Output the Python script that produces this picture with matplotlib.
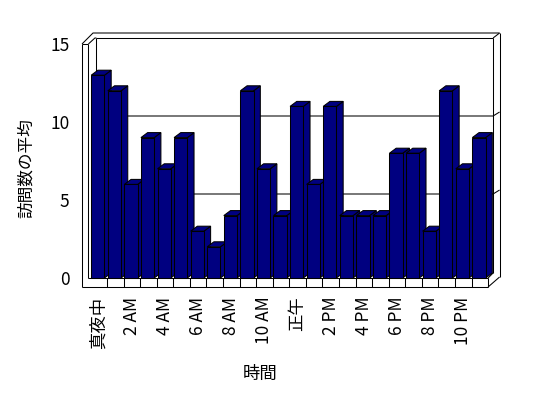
import matplotlib
matplotlib.use("Agg")
import matplotlib.pyplot as plt
from matplotlib.patches import Polygon

plt.rcParams['font.family'] = ['Noto Sans CJK JP', 'DejaVu Sans']

# ---- data ----
hours = list(range(24))
visits = [13, 12, 6, 9, 7, 9, 3, 2, 4, 12, 7, 4,
          11, 6, 11, 4, 4, 4, 8, 8, 3, 12, 7, 9]
tick_hours = [0, 2, 4, 6, 8, 10, 12, 14, 16, 18, 20, 22]
tick_labels = ['真夜中', '2 AM', '4 AM', '6 AM', '8 AM', '10 AM',
               '正午', '2 PM', '4 PM', '6 PM', '8 PM', '10 PM']
y_ticks = [0, 5, 10, 15]
x_title = '時間'
y_title = '訪問数の平均'

# ---- figure ----
W, H = 548, 398
fig = plt.figure(figsize=(W / 100, H / 100), dpi=100)
fig.patch.set_facecolor('white')

# pixel scale of the front plane
PX_CAT = 16.57   # px per category
PX_VAL = 15.6    # px per value unit
X0_PX = 90.4     # pixel x of category 0 (front)
Y0_PX = 278.0    # pixel y of value 0 (front)

def dx(px):
    return px / PX_CAT

def dy(px):
    return px / PX_VAL

left_px, right_px, top_px, bot_px = 82, 500, 33, 287
ax = fig.add_axes([left_px / W, 1 - bot_px / H,
                   (right_px - left_px) / W, (bot_px - top_px) / H])
ax.set_xlim((left_px - X0_PX) / PX_CAT, (right_px - X0_PX) / PX_CAT)
ax.set_ylim((Y0_PX - bot_px) / PX_VAL, (Y0_PX - top_px) / PX_VAL)
for s in ax.spines.values():
    s.set_visible(False)
ax.patch.set_alpha(0)

lw = 0.75
kw = dict(color='black', lw=lw, solid_capstyle='butt', clip_on=False)
n = len(hours)
ymax = max(y_ticks)
xmin, xmax = ax.get_xlim()
vmin, vmax = ax.get_ylim()

# wall geometry (depth offsets)
BW_DX_L, BW_DX_R, BW_DY = dx(6), dx(5), dy(6)       # back wall inner face
TH_DX, TH_DY = dx(6.5), dy(5)                       # back wall thickness
LW_IN = dx(-2)                                      # left wall inner face x

bx_l, bx_r = BW_DX_L, n + BW_DX_R
by0, by1 = BW_DY, ymax + BW_DY
ox_r = bx_r + TH_DX
oy_top = vmax

# back wall inner face
ax.plot([bx_l, bx_l], [by0, by1], zorder=1, **kw)
ax.plot([bx_l, bx_r], [by1, by1], zorder=1, **kw)
ax.plot([bx_r, bx_r], [by1, by0 - dy(1)], zorder=1, **kw)
# gridlines on back wall
for t in y_ticks[1:-1]:
    ax.plot([bx_l, bx_r, ox_r], [t + BW_DY, t + BW_DY, t + BW_DY + dy(4)],
            zorder=1, **kw)
# back wall outer edge (thickness)
ax.plot([xmin, dx(2.6), ox_r], [ymax, oy_top, oy_top], zorder=1, **kw)
ax.plot([bx_r, ox_r], [by1, oy_top], zorder=1, **kw)
ax.plot([ox_r, ox_r], [oy_top, dy(1)], zorder=1, **kw)
# left wall
ax.plot([xmin, xmin], [vmin, ymax], zorder=1, **kw)
ax.plot([LW_IN, LW_IN], [0, ymax], zorder=1, **kw)
ax.plot([xmin, LW_IN], [ymax, ymax], zorder=1, **kw)
ax.plot([LW_IN, bx_l - dx(1.5), bx_l], [ymax, by1, by1], zorder=1, **kw)
# floor
ax.plot([xmin, n], [vmin, vmin], zorder=1, **kw)
ax.plot([LW_IN, n], [0, 0], zorder=1, **kw)
for i in range(1, n + 1):
    ax.plot([i, i], [vmin, 0], zorder=1, **kw)
ax.plot([n, ox_r], [vmin, dy(1)], zorder=1, **kw)
ax.plot([n, bx_r], [0, by0 - dy(1)], zorder=1, **kw)

# ---- 3D bars ----
navy = '#000080'
B_OFF, B_W = 0.05, 0.80
B_DX, B_DY = dx(6.7), dy(5)
for k, (h, v) in enumerate(zip(hours, visits)):
    x0 = h + B_OFF
    x1 = x0 + B_W
    z = 3 + k * 0.01
    side = Polygon([(x1, 0), (x1 + B_DX, B_DY), (x1 + B_DX, v + B_DY), (x1, v)],
                   closed=True, facecolor=navy, edgecolor='black', lw=lw, zorder=z)
    top = Polygon([(x0, v), (x1, v), (x1 + B_DX, v + B_DY), (x0 + B_DX, v + B_DY)],
                  closed=True, facecolor=navy, edgecolor='black', lw=lw, zorder=z)
    ax.add_patch(side)
    ax.add_patch(top)
    ax.bar([x0], [v], width=B_W, align='edge', color=navy, edgecolor='black',
           linewidth=lw, zorder=z + 0.005)

# ---- ticks & labels ----
ax.set_yticks(y_ticks)
ax.set_yticklabels([str(t) for t in y_ticks], fontsize=12.5)
ax.tick_params(axis='y', length=0, pad=9)
ax.set_xticks([h + 0.5 for h in tick_hours])
ax.set_xticklabels(tick_labels, rotation=90, fontsize=12.5, va='top', ha='center')
ax.tick_params(axis='x', length=0, pad=7)

fig.text(26 / W, 1 - 168 / H, y_title, rotation=90, fontsize=12,
         ha='center', va='center')
fig.text(260 / W, 1 - 374 / H, x_title, fontsize=12.5, ha='center', va='center')

fig.savefig('out.png', dpi=100, facecolor='white')
